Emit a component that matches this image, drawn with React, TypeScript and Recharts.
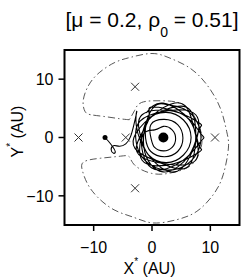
import { ComposedChart, Line, Scatter, XAxis, YAxis, ReferenceArea } from 'recharts';

// zero-velocity curve (dash-dot), closed loop
const zvcPts: [number, number][] = [
  [-3.9, 3.05], [-5.4, 3.2], [-8.2, 3.6], [-10.5, 3.9], [-11.5, 4.5], [-11.8, 6.2],
  [-11.1, 8.5], [-9.4, 10.8], [-6.5, 12.8], [-3.65, 13.75], [0, 14.4], [3.1, 13.6],
  [6.5, 11.9], [9.4, 9.05], [11.7, 5.05], [12.8, 1.05], [13.1, -1.8], [12.2, -6.4],
  [10.5, -9.8], [7.7, -12.65], [4.2, -14.1], [0.2, -14.65], [-3.1, -13.7], [-6.5, -12.4],
  [-9.4, -10.15], [-11.1, -7.85], [-11.95, -5.6], [-11.65, -4.15], [-8.8, -3.55],
  [-5.4, -3.2], [-3.9, -3.3], [-2.9, -4.8], [-0.05, -6.15], [3.1, -6.1], [6.5, -4.9],
  [8.2, -2.4], [8.5, 0.5], [7.1, 3.9], [4.8, 5.9], [1.4, 6.3], [-1.8, 6.0], [-3.0, 4.6],
  [-3.9, 3.05],
];

// planet path: start at the planet, small loop, tail up to the cusp
const tailPts: [number, number][] = [
  [-8.05, 0], [-7.5, -0.6], [-6.8, -1.5], [-6.3, -2.4], [-6.6, -2.7], [-7.0, -2.1],
  [-6.6, -1.4], [-5.6, -1.5], [-4.5, -1.1], [-3.7, 0.1], [-3.1, 2.2], [-2.6, 4.5],
];
// loops round the star, each read as a rounded triangle or a ring
const loopA: [number, number][] = [[-2.7, 2.1], [-0.6, -3.0], [3.9, -5.9], [7.2, -1.6], [7.5, 3.9], [2.1, 4.5]];
const loopB: [number, number][] = [
  [-2.05, 2.8], [-2.8, 0], [-2.05, -2.8], [0, -4.85], [2.8, -5.6], [5.6, -4.85], [7.65, -2.8],
  [8.4, 0], [7.65, 2.8], [5.6, 4.85], [2.8, 5.6], [0, 4.85],
];
const loopC: [number, number][] = [[-1.4, -1.6], [1.9, -5.9], [6.4, -3.0], [7.9, 0.9], [8.5, 2.1], [7.6, 2.8], [3.7, 4.5], [-1.7, 3.9]];
const loopD: [number, number][] = [[-1.9, 0], [-0.6, -3.0], [2.4, -4.3], [5.4, -3.0], [6.7, 0], [5.4, 3.0], [2.4, 4.3], [-0.6, 3.0]];
const loopE: [number, number][] = [[-1.1, -0.1], [-0.2, -2.4], [2.1, -3.3], [4.4, -2.4], [5.3, -0.1], [4.4, 2.2], [2.1, 3.1], [-0.2, 2.2]];
const loopF: [number, number][] = [[-0.15, -0.2], [0.45, -1.7], [1.95, -2.3], [3.45, -1.7], [4.05, -0.2], [3.45, 1.3], [1.95, 1.9], [0.45, 1.3]];
const loopG: [number, number][] = [[-1.7, 0], [-0.1, -5.2], [5.2, -4.0], [8.1, -1.0], [8.9, 0], [8.1, 1.0], [5.2, 4.0], [-0.1, 5.2]];
const loopH: [number, number][] = [[-0.6, 3.0], [-2.7, -2.1], [2.1, -4.5], [7.5, -3.9], [7.2, 1.6], [3.9, 5.9]];
const loopI: [number, number][] = [[-3.1, 0], [0.6, -4.0], [5.9, -5.2], [7.5, 0], [5.9, 5.2], [0.6, 4.0]];
const loopJ: [number, number][] = [[-1.4, 1.6], [-1.7, -3.9], [3.7, -4.5], [7.6, -2.8], [8.5, -2.1], [7.9, -0.9], [6.4, 3.0], [1.9, 5.9], [-1.0, 4.2]];

// Lagrange-point crosses
const crossX = [-2.9, -12.6, -4.5, 10.8, -2.9];
const crossY = [8.7, 0, 0, 0, -8.7];

const star = { x: 1.95, y: 0 };
const planet = { x: -8.05, y: 0 };

const ticks = [-10, 0, 10];
const domain: [number, number] = [-15, 15];

const toRows = (pts: [number, number][]) => pts.map(([x, y]) => ({ x, y }));
const zvcData = toRows(zvcPts);
const orbitData = toRows([
  ...tailPts, ...loopA, ...loopB, ...loopC, ...loopD, ...loopE, ...loopF,
  ...loopG, ...loopH, ...loopI, ...loopJ,
]);
const crossData = crossX.map((x, i) => ({ x, y: crossY[i] }));

const font = '"Liberation Sans", Arial, Helvetica, sans-serif';
const fmt = (v: number) => (v < 0 ? `\u2212${Math.abs(v)}` : `${v}`);
const tickStyle = { fill: '#000', fontSize: 16, fontFamily: font };

const Cross = (props: any) => {
  const { cx, cy } = props;
  const s = 4;
  return (
    <g stroke="#333" strokeWidth={1}>
      <line x1={cx - s} y1={cy - s} x2={cx + s} y2={cy + s} />
      <line x1={cx - s} y1={cy + s} x2={cx + s} y2={cy - s} />
    </g>
  );
};

const Dot = (r: number) => (props: any) => <circle cx={props.cx} cy={props.cy} r={r} fill="#000" />;

export default function App() {
  return (
    <div style={{ position: 'absolute', left: 0, top: 0, width: 249, height: 278, background: '#fff' }}>
      <ComposedChart width={249} height={278} margin={{ top: 50, right: 9.5, bottom: 0, left: 0 }}>
        <XAxis type="number" dataKey="x" domain={domain} ticks={ticks} allowDataOverflow
          height={53} tickSize={6} tickMargin={11} tickFormatter={fmt} tick={tickStyle}
          axisLine={false} tickLine={{ stroke: '#000', strokeWidth: 1.5 }} />
        <XAxis xAxisId="t" orientation="top" type="number" dataKey="x" domain={domain} ticks={ticks}
          allowDataOverflow height={0} tickSize={6} tickFormatter={() => ''}
          axisLine={false} tickLine={{ stroke: '#000', strokeWidth: 1.5 }} />
        <YAxis type="number" dataKey="y" domain={domain} ticks={ticks} allowDataOverflow
          width={64.5} tickSize={6} tickMargin={5} tickFormatter={fmt} tick={tickStyle}
          axisLine={false} tickLine={{ stroke: '#000', strokeWidth: 1.5 }} />
        <YAxis yAxisId="r" orientation="right" type="number" dataKey="y" domain={domain} ticks={ticks}
          allowDataOverflow width={0} tickSize={6} tickFormatter={() => ''}
          axisLine={false} tickLine={{ stroke: '#000', strokeWidth: 1.5 }} />
        <Line data={zvcData} dataKey="y" type="natural" stroke="#444" strokeWidth={0.9}
          strokeDasharray="7 3 1.5 3" dot={false} activeDot={false} isAnimationActive={false} />
        <Line data={orbitData} dataKey="y" type="natural" stroke="#000" strokeWidth={1.1}
          dot={false} activeDot={false} isAnimationActive={false} />
        <Scatter data={crossData} dataKey="y" shape={Cross} isAnimationActive={false} />
        <Scatter data={[star]} dataKey="y" shape={Dot(5)} isAnimationActive={false} />
        <Scatter data={[planet]} dataKey="y" shape={Dot(2.5)} isAnimationActive={false} />
        <ReferenceArea x1={-15} x2={15} y1={-15} y2={15} fill="none" fillOpacity={0}
          stroke="#000" strokeWidth={2} ifOverflow="visible" />
      </ComposedChart>
      <svg width={249} height={278} style={{ position: 'absolute', left: 0, top: 0, pointerEvents: 'none' }}
        fontFamily={font} fill="#000">
        <text x={152} y={26.7} fontSize={21} textAnchor="middle">
          [μ = 0.2, ρ<tspan fontSize={14} dy={10}>0</tspan><tspan dy={-10}> = 0.51]</tspan>
        </text>
        <text x={149.5} y={274.3} fontSize={16} textAnchor="middle">
          X<tspan fontSize={10} dy={-9}>*</tspan><tspan dy={9}> (AU)</tspan>
        </text>
        <text x={23.3} y={131.5} fontSize={16} textAnchor="middle" transform="rotate(-90 23.3 131.5)">
          Y<tspan fontSize={10} dy={-9}>*</tspan><tspan dy={9}> (AU)</tspan>
        </text>
      </svg>
    </div>
  );
}
